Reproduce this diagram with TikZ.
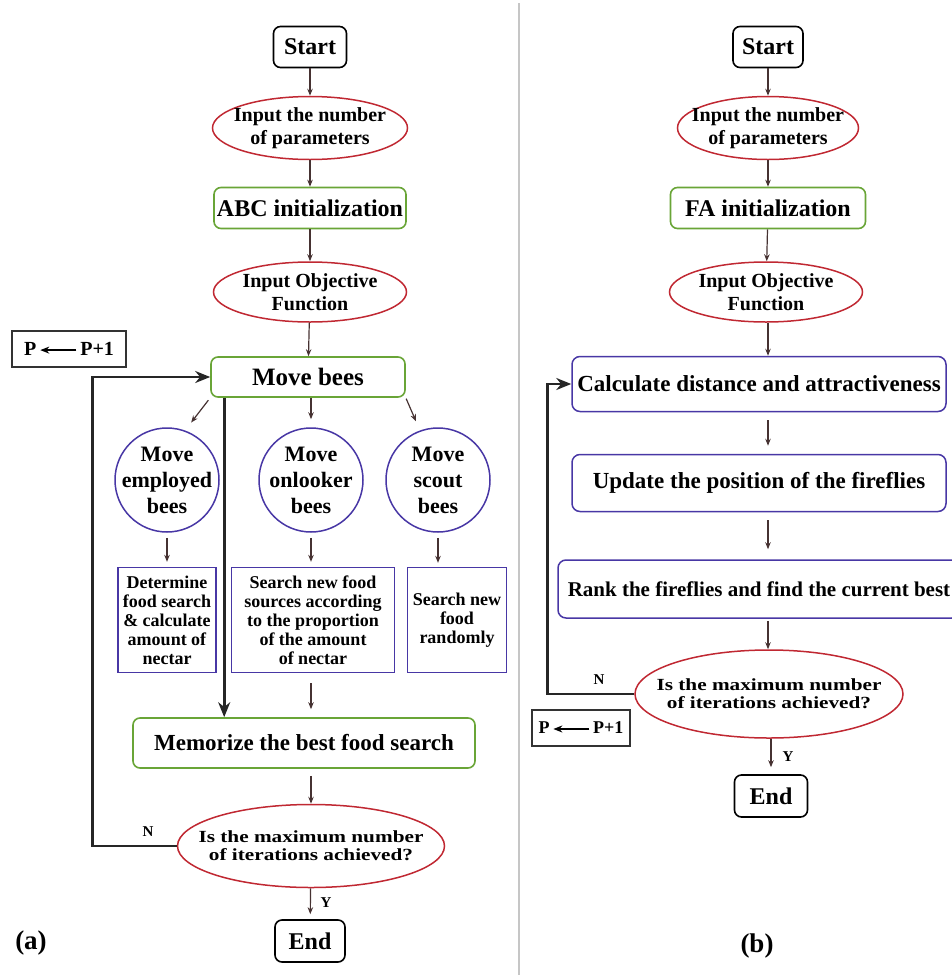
\documentclass[tikz,border=0pt]{standalone}
\usepackage{fontspec}
\setmainfont{Liberation Serif}
\newfontfamily\wideserif[FakeStretch=1.25]{Liberation Serif}
\usetikzlibrary{shapes.geometric,arrows.meta}
\definecolor{ellred}{RGB}{192,40,50}
\definecolor{boxgreen}{RGB}{105,165,55}
\definecolor{beeblue}{RGB}{72,55,165}
\definecolor{arrowc}{RGB}{70,50,50}
\newcommand{\fsz}[2]{\fontsize{#1}{#2}\selectfont\bfseries}
\newcommand{\updarrow}{\tikz[baseline=-0.6ex]\draw[line width=1.4pt,-{Stealth[length=9pt,width=7pt]}] (36pt,0) -- (0,0);}
\begin{document}
\begin{tikzpicture}
    [x=1pt,y=-1pt,
     >={Stealth[length=7pt,width=5.5pt]},
     pre/.style={<-,draw=arrowc,line width=1.2pt},
     post/.style={->,draw=arrowc,line width=1.2pt},
     loopback/.style={-{Stealth[length=15pt,width=12pt]},line width=2.6pt,draw=black!85},
     term/.style={draw=black,rounded corners=7pt,line width=1.6pt,minimum height=41pt,inner sep=0pt,font=\fsz{24}{28}},
     inell/.style={ellipse,draw=ellred,line width=1.5pt,inner sep=0pt},
     intext/.style={align=center,font=\fsz{20}{23}},
     initbox/.style={draw=boxgreen,rounded corners=7pt,line width=1.6pt,inner sep=0pt,minimum height=41pt,font=\fsz{24}{28}},
     beecirc/.style={circle,draw=beeblue,line width=1.5pt,minimum size=104pt,inner sep=0pt},
     beetext/.style={align=center,font=\fsz{22}{26}},
     foodbox/.style={draw=beeblue,line width=1.3pt,minimum height=105pt,inner sep=0pt,align=center,font=\fsz{18}{19}},
     flybox/.style={draw=beeblue,rounded corners=8pt,line width=1.5pt,inner sep=0pt,font=\fsz{23}{27}},
     checktext/.style={align=center,font=\wideserif\fsz{17}{18}},
     pbox/.style={draw=black!80,line width=1.1pt,minimum height=36pt,inner sep=0pt,font=\fsz{20}{24}},
     tag/.style={font=\fsz{15}{18}},
     panel/.style={font=\fsz{27}{30}}]
    \useasboundingbox (0,0) rectangle (952,975);
    \clip (0,0) rectangle (952,975);
    \draw[gray!45,line width=2pt] (519,3) -- (519,975);
    % (a) artificial bee colony
    \node [term,minimum width=73pt] (start) at (310,47) {Start};
    \node [inell,minimum width=195pt,minimum height=63pt,
      label={[intext,name=inpar-t]center:{Input the number\\of parameters}}] (inpar) at (310,128) {}
      edge [pre] (start);
    \node [initbox,minimum width=192pt] (abcinit) at (310,208) {ABC initialization}
      edge [pre] (inpar);
    \node [inell,minimum width=193pt,minimum height=60pt,
      label={[intext,name=objabc-t]center:{Input Objective\\Function}}] (objabc) at (310,292) {}
      edge [pre] (abcinit);
    \node [initbox,minimum width=194pt,minimum height=40pt,font=\fsz{25}{28}] (movebees) at (308,377) {Move bees}
      edge [pre] (objabc);
    \node [beecirc,label={[beetext,name=employed-t]center:{Move\\employed\\bees}}] (employed) at (167,480) {};
    \node [beecirc,label={[beetext,name=onlooker-t]center:{Move\\onlooker\\bees}}] (onlooker) at (311,480) {};
    \node [beecirc,label={[beetext,name=scout-t]center:{Move\\scout\\bees}}] (scout) at (438,480) {};
    \node [foodbox,minimum width=98pt] (detfood) at (167,620)
      {Determine\\food search\\\& calculate\\amount of\\nectar};
    \node [foodbox,minimum width=163pt] (searchsrc) at (313,620)
      {Search new food\\sources according\\to the proportion\\of the amount\\of nectar};
    \node [foodbox,minimum width=99pt] (searchrnd) at (457,620) {Search new\\food\\randomly};
    \node [initbox,minimum width=342pt,minimum height=50pt,font=\fsz{23}{27}] (memorize) at (304,743)
      {Memorize the best food search};
    \node [inell,minimum width=267pt,minimum height=83pt,
      label={[checktext,name=checkabc-t]center:{Is the maximum number\\of iterations achieved?}}] (checkabc) at (311,846) {};
    \node [term,minimum width=70pt,minimum height=42pt] (endabc) at (310,941) {End};
    \node [pbox,minimum width=114pt] (pabc) at (69,349) {P\,\updarrow\,P+1};
    \node [tag] (nabc) at (148,832) {N};
    \node [tag] (yabc) at (326,903) {Y};
    \node [panel] (tagA) at (31,943) {(a)};
    \draw [post,shorten <=3pt,shorten >=10pt] (movebees.south west) -- (employed.70);
    \draw [post,shorten >=8pt] (movebees.south -| onlooker) -- (onlooker);
    \draw [post,shorten <=1pt,shorten >=10pt] (movebees.south east) -- (scout.110);
    \draw [post,shorten <=5pt,shorten >=5pt] (employed.south -| detfood) -- (detfood);
    \draw [post,shorten <=5pt,shorten >=5pt] (onlooker) -- (searchsrc.north -| onlooker);
    \draw [post,shorten <=5pt,shorten >=4pt] (scout) -- (searchrnd.north -| scout);
    \draw [post,shorten <=10pt,shorten >=8pt] (searchsrc.south -| onlooker) -- (memorize.north -| onlooker);
    \draw [post,shorten <=7pt] (memorize.south -| checkabc) -- (checkabc);
    \draw [post,shorten >=5pt] (checkabc) -- (endabc);
    \coordinate (drop) at ([xshift=14pt]movebees.south west);
    \draw [loopback] (drop) -- (drop |- memorize.north);
    \coordinate (turnabc) at ([xshift=-118pt]movebees.west);
    \draw [loopback] (checkabc.west) -| (turnabc) -- (movebees.west);
    % (b) firefly algorithm
    \node [term,minimum width=70pt] (startfa) at (768,47) {Start};
    \node [inell,minimum width=181pt,minimum height=63pt,
      label={[intext,name=inparfa-t]center:{Input the number\\of parameters}}] (inparfa) at (768,128) {}
      edge [pre] (startfa);
    \node [initbox,minimum width=195pt] (fainit) at (768,208) {FA initialization}
      edge [pre] (inparfa);
    \node [inell,minimum width=193pt,minimum height=60pt,
      label={[intext,name=objfa-t]center:{Input Objective\\Function}}] (objfa) at (766,292) {}
      edge [pre] (fainit);
    \node [flybox,minimum width=374pt,minimum height=55pt] (calcd) at (759,384)
      {Calculate distance and attractiveness};
    \node [flybox,minimum width=374pt,minimum height=57pt] (update) at (759,483)
      {Update the position of the fireflies};
    \node [flybox,minimum width=402pt,minimum height=58pt,font=\fsz{21}{25}] (rank) at (759,589)
      {Rank the fireflies and find the current best};
    \node [inell,minimum width=268pt,minimum height=88pt,
      label={[checktext,name=checkfa-t]center:{Is the maximum number\\of iterations achieved?}}] (checkfa) at (769,694) {};
    \node [term,minimum width=73pt,minimum height=42pt] (endfa) at (771,796) {End};
    \node [pbox,minimum width=98pt,font=\fsz{18}{22}] (pfa) at (581,728) {P\,\updarrow\,P+1};
    \node [tag] (nfa) at (599,680) {N};
    \node [tag] (yfa) at (788,757) {Y};
    \node [panel] (tagB) at (757,946) {(b)};
    \draw [post] (objfa.south -| startfa) -- (calcd.north -| startfa);
    \draw [post,shorten <=8pt,shorten >=8pt] (calcd.south -| startfa) -- (update.north -| startfa);
    \draw [post,shorten <=8pt,shorten >=10pt] (update.south -| startfa) -- (rank.north -| startfa);
    \draw [post,shorten <=2pt] (rank.south -| startfa) -- (checkfa.north -| startfa);
    \draw [post,shorten >=7pt] (checkfa.south -| endfa) -- (endfa);
    \coordinate (turnfa) at ([xshift=-24pt]calcd.west);
    \draw [loopback] (checkfa.west) -| (turnfa) -- (calcd.west);
  \end{tikzpicture}
\end{document}
